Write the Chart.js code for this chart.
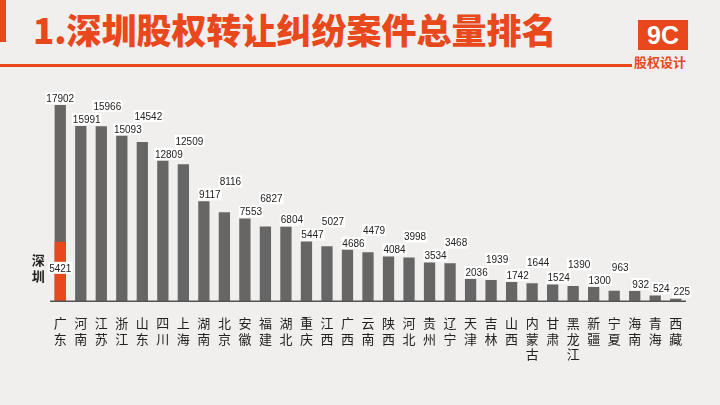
<!DOCTYPE html>
<html><head><meta charset="utf-8">
<script src="https://cdn.jsdelivr.net/npm/chart.js@4"></script>
<style>
body{margin:0;background:#f0efed;font-family:"Noto Sans CJK SC",sans-serif;}
#wrap{position:relative;width:720px;height:405px;overflow:hidden;}
#bar{position:absolute;left:0;top:0;width:6px;height:42px;background:#e8481c;}
#title{position:absolute;left:33px;top:4px;font-size:35px;line-height:50px;font-weight:900;color:#e8481c;}
#line{position:absolute;left:0;top:64px;width:632px;height:3px;background:#e8481c;}
#logo{position:absolute;left:638px;top:20px;width:50px;height:30px;background:#e8481c;color:#fff;font:bold 25px "Liberation Sans",sans-serif;text-align:center;line-height:30px;}
#logo2{position:absolute;left:634px;top:52px;font-size:13px;font-weight:bold;color:#e8481c;}
#c{position:absolute;left:0;top:0;}
</style></head><body>
<div id="wrap">
<div id="bar"></div><div id="title">1.深圳股权转让纠纷案件总量排名</div><div id="line"></div>
<div id="logo">9C</div><div id="logo2">股权设计</div>
<canvas id="c" width="720" height="405"></canvas>
</div>
<script>
// 省份和案件数
var provinces = ["广东","河南","江苏","浙江","山东","四川","上海","湖南","北京","安徽","福建","湖北","重庆","江西","广西","云南","陕西","河北","贵州","辽宁","天津","吉林","山西","内蒙古","甘肃","黑龙江","新疆","宁夏","海南","青海","西藏"];
var totals = [17902,15991,15966,15093,14542,12809,12509,9117,8116,7553,6827,6804,5447,5027,4686,4479,4084,3998,3534,3468,2036,1939,1742,1644,1524,1390,1300,963,932,524,225];
// 深圳只在广东那一栏
var shenzhen = [5421];

var labels = provinces.map(function (p) { return p.split(""); });
var szData = provinces.map(function (p, i) { return i < shenzhen.length ? shenzhen[i] : null; });

var valueLabels = {
    id: 'valueLabels',
    afterDatasetsDraw: function (chart) {
        var ctx = chart.ctx;
        ctx.save();
        ctx.font = '10px "Liberation Sans", sans-serif';
        ctx.textAlign = 'center';
        ctx.textBaseline = 'bottom';
        var drawLabel = function (txt, x, y) {
            var w = ctx.measureText(txt).width + 2;
            ctx.fillStyle = '#ffffff';
            ctx.fillRect(x - w / 2, y - 12, w, 12);
            ctx.fillStyle = '#222';
            ctx.fillText(txt, x, y);
        };
        // 标签互相挡住时往上挪一格
        var prev = null;
        chart.getDatasetMeta(0).data.forEach(function (b, i) {
            var txt = String(totals[i]);
            var w = ctx.measureText(txt).width + 2;
            var x = i === 0 ? b.x : b.x + 6;
            var y = b.y - 1;
            if (prev && x - w / 2 < prev.r && Math.abs(y - prev.y) < 12) y = prev.y - 13;
            drawLabel(txt, x, y);
            prev = { r: x + w / 2, y: y };
        });
        var s = chart.getDatasetMeta(1).data[0];
        drawLabel(String(shenzhen[0]), s.x, s.y + 32);
        ctx.font = 'bold 13px "Noto Sans CJK SC"';
        ctx.fillStyle = '#222';
        ctx.fillText('深', s.x - 22, s.y + 25);
        ctx.fillText('圳', s.x - 22, s.y + 41);
        // 底线
        var a = chart.chartArea;
        ctx.strokeStyle = '#555';
        ctx.lineWidth = 1.5;
        ctx.beginPath();
        ctx.moveTo(a.left, a.bottom);
        ctx.lineTo(a.right, a.bottom);
        ctx.stroke();
        ctx.restore();
    }
};

var ctx = document.getElementById('c').getContext('2d');
new Chart(ctx, {
    type: 'bar',
    data: {
        labels: labels,
        datasets: [
            { data: totals, backgroundColor: '#666666', barPercentage: 0.55, categoryPercentage: 1, grouped: false, order: 2 },
            { data: szData, backgroundColor: '#e8481c', barPercentage: 0.55, categoryPercentage: 1, grouped: false, order: 1 }
        ]
    },
    options: {
        responsive: false,
        animation: false,
        layout: { padding: { left: 50, right: 34, top: 104, bottom: 37 } },
        plugins: { legend: { display: false }, tooltip: { enabled: false } },
        scales: {
            x: {
                grid: { display: false }, border: { display: false },
                ticks: { color: '#222', font: { size: 13, family: '"Noto Sans CJK SC"' }, maxRotation: 0, autoSkip: false, padding: 6 }
            },
            y: { display: false, min: 0, max: 18000 }
        }
    },
    plugins: [valueLabels]
});
</script>
</body></html>
